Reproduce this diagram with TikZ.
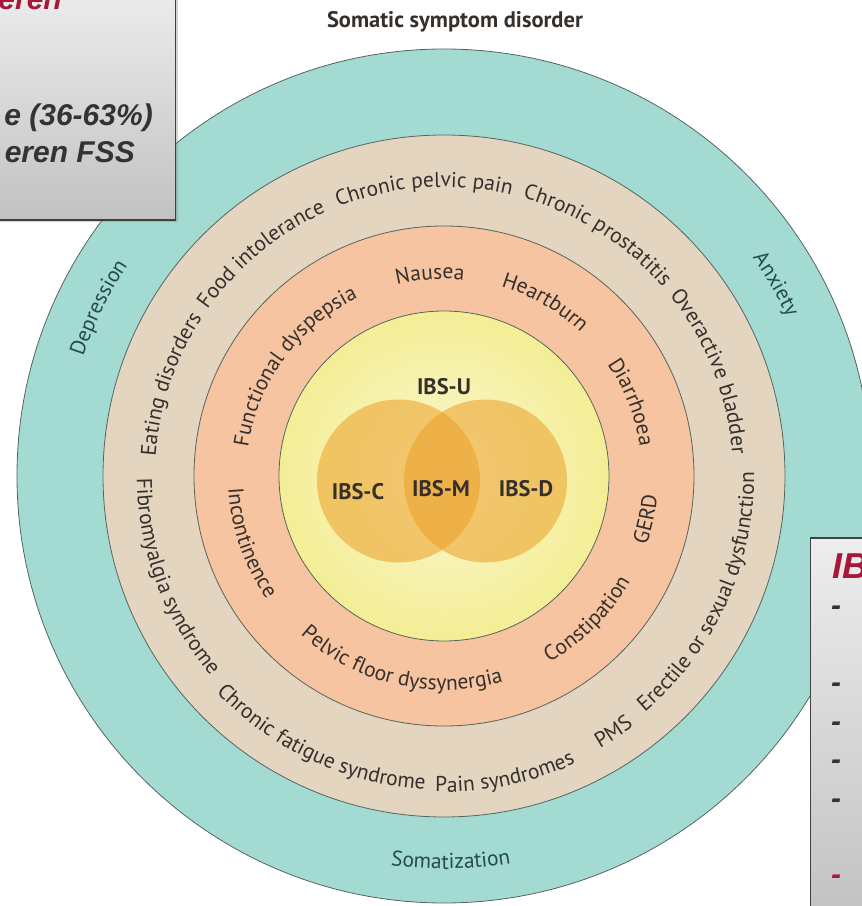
\documentclass[tikz,border=0pt]{standalone}
\usepackage{fontspec}
\setmainfont{PT Sans}
\newfontfamily\slidefont{Liberation Sans}
\usetikzlibrary{decorations.text}
\usetikzlibrary{shadows}

\definecolor{somteal}{HTML}{A3DBD3}
\definecolor{fsbeige}{HTML}{E3D5C0}
\definecolor{gutorange}{HTML}{F6C4A0}
\definecolor{ibsyellow}{HTML}{F4EE96}
\definecolor{ibsamber}{HTML}{ECA028}
\definecolor{ringline}{HTML}{56645F}
\definecolor{labelgray}{HTML}{35302C}
\definecolor{labelteal}{HTML}{264A4D}
\definecolor{slidered}{HTML}{A8163A}
\definecolor{slidegray}{HTML}{333333}

\tikzset{
  ring/.style={draw=ringline, line width=0.8pt},
  venn/.style={fill=ibsamber, fill opacity=0.55},
  title/.style={font=\fontsize{22.5}{22.5}\selectfont\bfseries, text=labelgray, anchor=base, inner sep=0pt},
  ibs/.style={font=\fontsize{22.5}{22.5}\selectfont\bfseries, text=labelgray, inner sep=0pt},
  slidebox/.style={draw=black!75, line width=1.5pt, top color=black!7, bottom color=black!24,
    drop shadow={shadow xshift=2pt, shadow yshift=-2pt, opacity=0.35}},
  slidetext/.style={font=\slidefont\fontsize{30}{30}\selectfont\bfseries\itshape, text=slidegray, inner sep=0pt}
}

\newcommand{\labelfont}{\fontsize{21.5}{21.5}\selectfont}
% clockwise arc: letters stand on the outside
\newcommand{\toplabel}[5][labelgray]{%
  \path[decorate, decoration={text along path, text align=center,
      text={|\labelfont\color{#1}|#5}}]
    ({#3+#4}:#2) arc[start angle={#3+#4}, end angle={#3-#4}, radius=#2];}
% counter-clockwise arc: letters hang towards the centre
\newcommand{\bottomlabel}[5][labelgray]{%
  \path[decorate, decoration={text along path, text align=center,
      text={|\labelfont\color{#1}|#5}}]
    ({#3-#4}:#2) arc[start angle={#3-#4}, end angle={#3+#4}, radius=#2];}

\begin{document}
\begin{tikzpicture}[x=1pt, y=1pt]
\useasboundingbox (0,0) rectangle (862,906);
\clip (0,0) rectangle (862,906);

\node[title] (title) at (455,878) {Somatic symptom disorder};

\begin{scope}[shift={(444,430)}]
  \coordinate (ctr) at (0,0);
  \draw[ring, fill=somteal] (ctr) circle[radius=427];
  \draw[ring, fill=fsbeige] (ctr) circle[radius=341];
  \draw[ring, fill=gutorange] (ctr) circle[radius=250];
  \shade[inner color=ibsyellow!45!white, outer color=ibsyellow] (ctr) circle[radius=165];
  \draw[ring] (ctr) circle[radius=165];
  \fill[venn] (-45.5,-5) circle[radius=81.5];
  \fill[venn] (41.5,-5) circle[radius=81.5];

  % outer ring
  \toplabel[labelteal]{380}{154}{30}{Depression}
  \toplabel[labelteal]{378}{30}{30}{Anxiety}
  \bottomlabel[labelteal]{393}{-89}{30}{Somatization}

  % functional somatic syndromes
  \toplabel{289}{161.5}{45}{Eating disorders}
  \toplabel{289}{129.5}{45}{Food intolerance}
  \toplabel{289}{94}{45}{Chronic pelvic pain}
  \toplabel{289}{57.5}{45}{Chronic prostatitis}
  \toplabel{289}{21.5}{45}{Overactive bladder}
  \bottomlabel{310}{-24.5}{45}{Erectile or sexual dysfunction}
  \bottomlabel{314}{-56.5}{45}{PMS}
  \bottomlabel{316}{-78.5}{45}{Pain syndromes}
  \bottomlabel{314}{-115}{45}{Chronic fatigue syndrome}
  \bottomlabel{307}{-159.5}{45}{Fibromyalgia syndrome}

  % gut disorders
  \toplabel{198}{143.7}{70}{Functional dyspepsia}
  \toplabel{197}{94}{70}{Nausea}
  \toplabel{198}{59.8}{70}{Heartburn}
  \toplabel{198}{21.4}{70}{Diarrhoea}
  \bottomlabel{214}{-12}{70}{GERD}
  \bottomlabel{214}{-45}{70}{Constipation}
  \bottomlabel{214}{-103}{70}{Pelvic floor dyssynergia}
  \bottomlabel{216}{-161}{70}{Incontinence}

  \node[ibs] (ibsu) at (0,89) {IBS-U};
  \node[ibs] (ibsc) at (-86,-16) {IBS-C};
  \node[ibs] (ibsm) at (-3,-13) {IBS-M};
  \node[ibs] (ibsd) at (82,-13) {IBS-D};
\end{scope}

% slide boxes on top
\path[slidebox] (-10,686) rectangle (175.5,920);
\node[slidetext, text=slidered, anchor=base east] (headtl) at (62,896) {eren};
\node[slidetext, anchor=base east] (pct) at (153,780) {e (36-63\%)};
\node[slidetext, anchor=base east] (fss) at (135,743) {eren FSS};

\path[slidebox] (810.7,-14) rectangle (880,368);
\node[slidetext, text=slidered, anchor=base west, font=\slidefont\fontsize{36}{36}\selectfont\bfseries\itshape] (headbr) at (832,327) {IB};
\foreach \y [count=\i] in {290,213,174,136,97}
  \node[slidetext, anchor=base west] (dash\i) at (831,\y) {-};
\node[slidetext, text=slidered, anchor=base west] (dashred) at (831,21) {-};
\end{tikzpicture}
\end{document}
